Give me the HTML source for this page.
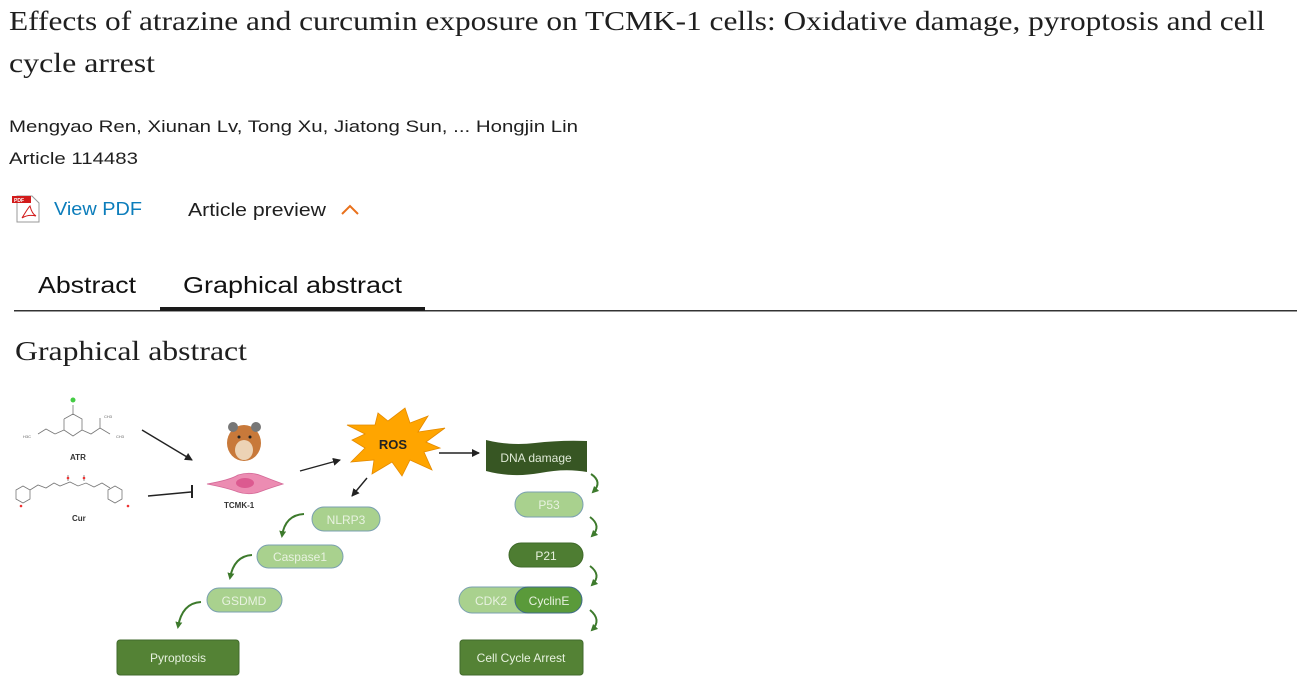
<!DOCTYPE html>
<html><head><meta charset="utf-8"><style>
html,body{margin:0;padding:0;background:#fff;width:1302px;height:700px;overflow:hidden}
svg{display:block}
.serif{font-family:"Liberation Serif",serif;fill:#1f1f1f}
.sans{font-family:"Liberation Sans",sans-serif}
</style></head><body>
<svg width="1302" height="700" viewBox="0 0 1302 700" xmlns="http://www.w3.org/2000/svg">
<defs>
<marker id="ah" markerWidth="8" markerHeight="8" refX="7" refY="4" orient="auto" markerUnits="userSpaceOnUse"><path d="M0,0 L8,4 L0,8 z" fill="#222"/></marker>
<marker id="gh" markerWidth="7" markerHeight="7" refX="5" refY="3.5" orient="auto" markerUnits="userSpaceOnUse"><path d="M0,0 L7,3.5 L0,7 z" fill="#3d7a2c"/></marker>
</defs>
<text class="serif" x="9" y="30" font-size="27" textLength="1256" lengthAdjust="spacingAndGlyphs">Effects of atrazine and curcumin exposure on TCMK-1 cells: Oxidative damage, pyroptosis and cell</text>
<text class="serif" x="9" y="72" font-size="27" textLength="146" lengthAdjust="spacingAndGlyphs">cycle arrest</text>
<text class="sans" x="9" y="132" font-size="17" fill="#1f1f1f" textLength="569" lengthAdjust="spacingAndGlyphs">Mengyao Ren, Xiunan Lv, Tong Xu, Jiatong Sun, ... Hongjin Lin</text>
<text class="sans" x="9" y="164" font-size="17" fill="#1f1f1f" textLength="129" lengthAdjust="spacingAndGlyphs">Article 114483</text>
<path d="M17,196 h15 l7,7 v19 h-22 z" fill="#fff" stroke="#999" stroke-width="1"/>
<rect x="12" y="196" width="19" height="7" fill="#d21b1b"/>
<text x="14" y="202" font-size="5" fill="#fff" class="sans" font-weight="bold">PDF</text>
<path d="M22,218 q6,-10 8,-12 q2,8 6,10 q-8,-2 -14,2z" fill="none" stroke="#d21b1b" stroke-width="1"/>
<text class="sans" x="54" y="215" font-size="18" fill="#0c7dbb" textLength="88" lengthAdjust="spacingAndGlyphs">View PDF</text>
<text class="sans" x="188" y="216" font-size="18" fill="#1f1f1f" textLength="138" lengthAdjust="spacingAndGlyphs">Article preview</text>
<path d="M342,214 l8,-8 l8,8" fill="none" stroke="#e9711c" stroke-width="2"/>
<text class="sans" x="38" y="293" font-size="23" fill="#111" textLength="98" lengthAdjust="spacingAndGlyphs">Abstract</text>
<text class="sans" x="183" y="293" font-size="23" fill="#111" textLength="219" lengthAdjust="spacingAndGlyphs">Graphical abstract</text>
<rect x="14" y="310" width="1283" height="1.5" fill="#333"/>
<rect x="160" y="307" width="265" height="4" fill="#1a1a1a"/>
<text class="serif" x="15" y="360" font-size="27" textLength="232" lengthAdjust="spacingAndGlyphs">Graphical abstract</text>

<g stroke="#777" stroke-width="0.8" fill="none">
<path d="M73,405 L73,415 M64,419 L73,414 L82,419 L82,430 L73,436 L64,430 L64,419 M64,430 L55,434 M82,430 L91,434 L100,428 L100,418 M100,428 L110,434 M55,434 L46,429 L38,434"/>
<path d="M16,490 l7,-4 l7,4 l0,9 l-7,4 l-7,-4z M30,490 l8,-5 l8,3 l8,-5 l6,3 l10,-4 l8,4 l8,-3 l8,4 l8,-4 l8,5 M108,490 l7,-4 l7,4 l0,9 l-7,4 l-7,-4z M68,481 v-6 M84,481 v-6"/>
</g>
<circle cx="73" cy="400" r="2.5" fill="#4c4"/>
<text x="23" y="438" font-size="4" fill="#666" class="sans">H3C</text>
<text x="104" y="418" font-size="4" fill="#666" class="sans">CH3</text>
<text x="116" y="438" font-size="4" fill="#666" class="sans">CH3</text>
<text x="70" y="460" font-size="8" font-weight="bold" fill="#333" class="sans">ATR</text>
<text x="72" y="521" font-size="8" font-weight="bold" fill="#333" class="sans">Cur</text>
<circle cx="21" cy="506" r="1.3" fill="#e33"/><circle cx="128" cy="506" r="1.3" fill="#e33"/>
<circle cx="68" cy="478" r="1.3" fill="#e33"/><circle cx="84" cy="478" r="1.3" fill="#e33"/>

<line x1="142" y1="430" x2="192" y2="460" stroke="#222" stroke-width="1.4" marker-end="url(#ah)"/>
<line x1="148" y1="496" x2="191" y2="492" stroke="#222" stroke-width="1.4"/>
<line x1="192" y1="485" x2="192" y2="498" stroke="#222" stroke-width="2"/>
<line x1="300" y1="471" x2="340" y2="460" stroke="#222" stroke-width="1.4" marker-end="url(#ah)"/>
<line x1="367" y1="478" x2="352" y2="496" stroke="#222" stroke-width="1.4" marker-end="url(#ah)"/>
<line x1="439" y1="453" x2="479" y2="453" stroke="#222" stroke-width="1.4" marker-end="url(#ah)"/>

<ellipse cx="244" cy="443" rx="17" ry="18" fill="#c8793a"/>
<circle cx="233" cy="427" r="5" fill="#777"/><circle cx="256" cy="427" r="5" fill="#777"/>
<ellipse cx="244" cy="450" rx="9" ry="10" fill="#ecd3b5"/>
<circle cx="239" cy="437" r="1.5" fill="#222"/><circle cx="250" cy="437" r="1.5" fill="#222"/>
<path d="M207,484 Q230,480 238,475 Q250,471 262,476 Q272,480 283,484 Q270,488 262,491 Q250,496 238,492 Q228,488 207,484z" fill="#ec8cb2" stroke="#d46a98" stroke-width="0.8"/>
<ellipse cx="245" cy="483" rx="9" ry="5" fill="#dc5a90"/>
<text x="224" y="508" font-size="8" font-weight="bold" fill="#333" class="sans">TCMK-1</text>

<polygon points="347,425 375,425 378,413 388,421 405,408 410,423 428,416 418,432 445,428 426,442 440,448 424,452 432,470 410,460 402,476 392,462 372,474 374,460 351,462 365,448 352,440 365,434" fill="#ffa500" stroke="#e48a00" stroke-width="0.8"/>
<text x="393" y="449" font-size="13" font-weight="bold" fill="#222" class="sans" text-anchor="middle">ROS</text>

<path d="M486,440 Q510,446 535,443 Q560,440 587,441 L587,472 Q565,468 540,473 Q512,478 486,471z" fill="#375623"/>
<text x="536" y="462" font-size="12" fill="#dfe9d6" class="sans" text-anchor="middle">DNA damage</text>

<g class="sans" font-size="12" text-anchor="middle">
<rect x="312" y="507" width="68" height="24" rx="12" fill="#a9d18e" stroke="#7aa0b0"/>
<text x="346" y="524" fill="#e8f2e0">NLRP3</text>
<rect x="257" y="545" width="86" height="23" rx="11.5" fill="#a9d18e" stroke="#7aa0b0"/>
<text x="300" y="561" fill="#e8f2e0">Caspase1</text>
<rect x="207" y="588" width="75" height="24" rx="12" fill="#a9d18e" stroke="#7aa0b0"/>
<text x="244" y="605" fill="#e8f2e0">GSDMD</text>
<rect x="117" y="640" width="122" height="35" rx="3" fill="#548235" stroke="#416a2c"/>
<text x="178" y="662" fill="#e8f2e0">Pyroptosis</text>

<rect x="515" y="492" width="68" height="25" rx="12.5" fill="#a9d18e" stroke="#7aa0b0"/>
<text x="549" y="509" fill="#e8f2e0">P53</text>
<rect x="509" y="543" width="74" height="24" rx="12" fill="#4e7d32" stroke="#3f6a2a"/>
<text x="546" y="560" fill="#e8f2e0">P21</text>
<rect x="459" y="587" width="90" height="26" rx="13" fill="#a9d18e" stroke="#7aa0b0"/>
<text x="491" y="605" fill="#e8f2e0">CDK2</text>
<rect x="515" y="587" width="67" height="26" rx="13" fill="#5a9a3a" stroke="#3f6a8a"/>
<text x="549" y="605" fill="#e8f2e0">CyclinE</text>
<rect x="460" y="640" width="123" height="35" rx="3" fill="#548235" stroke="#416a2c"/>
<text x="521" y="662" fill="#e8f2e0">Cell Cycle Arrest</text>
</g>

<g fill="none" stroke="#3d7a2c" stroke-width="2">
<path d="M304,514 Q285,515 282,536" marker-end="url(#gh)"/>
<path d="M252,555 Q234,556 230,578" marker-end="url(#gh)"/>
<path d="M201,602 Q182,603 178,627" marker-end="url(#gh)"/>
<path d="M591,474 Q603,482 593,492" marker-end="url(#gh)"/>
<path d="M590,517 Q602,526 592,536" marker-end="url(#gh)"/>
<path d="M590,566 Q602,575 592,585" marker-end="url(#gh)"/>
<path d="M590,610 Q602,620 592,630" marker-end="url(#gh)"/>
</g>
</svg>
</body></html>
